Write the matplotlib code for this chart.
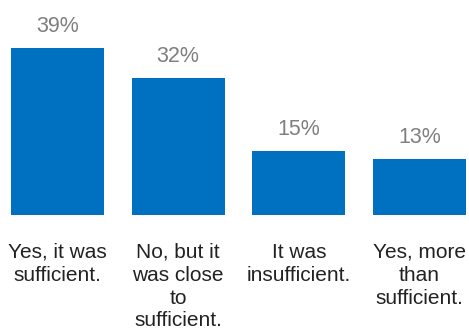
import matplotlib.pyplot as plt
import numpy as np

plt.rcParams['font.family'] = ['Liberation Sans', 'DejaVu Sans']

categories = ["Yes, it was\nsufficient.", "No, but it\nwas close\nto\nsufficient.",
              "It was\ninsufficient.", "Yes, more\nthan\nsufficient."]
values = [39, 32, 15, 13]

fig = plt.figure(figsize=(4.69, 3.28), dpi=100)
# axes spans from the bar baseline up to the top of the figure
ax = fig.add_axes([0, 113 / 328, 1, 215 / 328])

x = np.arange(len(values))
ax.bar(x, values, width=0.77, color="#0070C0")

# pixel mapping: bar centers at 57.5 and 419.5 px
unit = (419.5 - 57.5) / 3
ax.set_xlim(-57.5 / unit, (469 - 57.5) / unit)
ax.set_ylim(0, 215 / 4.28)

for xi, v in zip(x, values):
    ax.annotate(f"{v}%", xy=(xi, v), xytext=(0, 11.5), textcoords="offset points",
                ha="center", va="baseline", fontsize=15.5, color="#7f7f7f")

ax.set_xticks(x)
ax.set_xticklabels(categories, fontsize=15, color="#222222", linespacing=1.26)
ax.tick_params(axis="x", length=0, pad=20)
ax.set_yticks([])
for s in ax.spines.values():
    s.set_visible(False)

fig.savefig("out.png", dpi=100)
